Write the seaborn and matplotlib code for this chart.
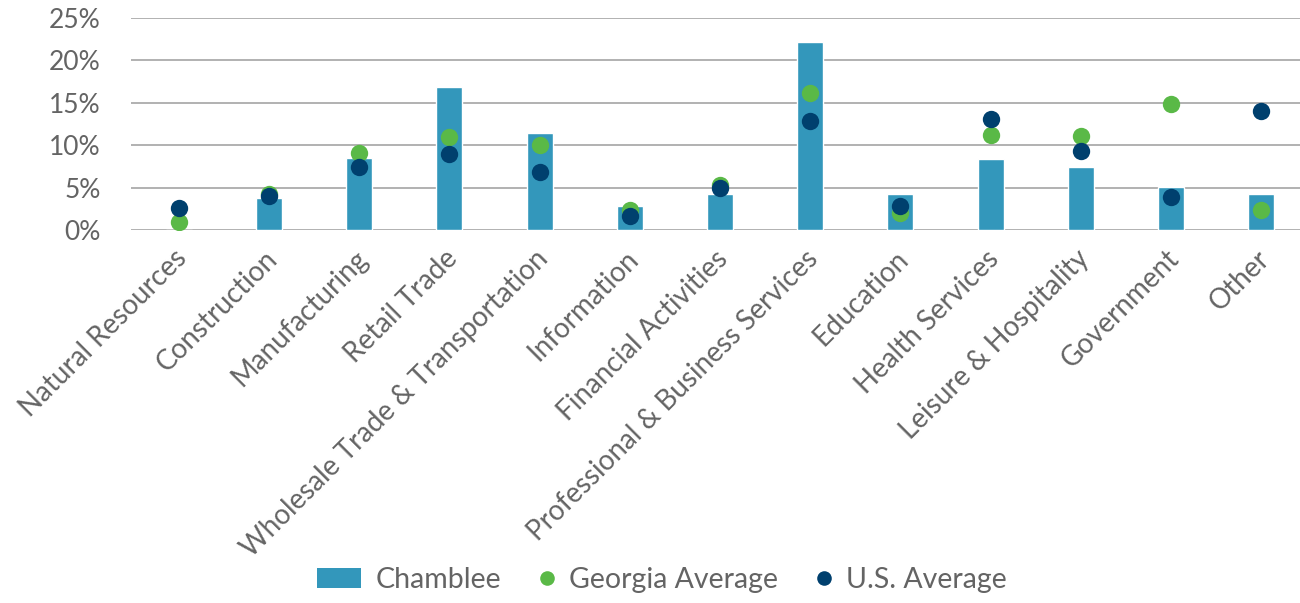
import matplotlib
matplotlib.use("Agg")
import matplotlib.pyplot as plt
import matplotlib.transforms as mtransforms
from matplotlib.patches import Patch
from matplotlib.lines import Line2D
from matplotlib.legend_handler import HandlerLine2D
import seaborn as sns
import pandas as pd

# values (percent of employment)
industries = ["Natural Resources", "Construction", "Manufacturing", "Retail Trade",
              "Wholesale Trade & Transportation", "Information", "Financial Activities",
              "Professional & Business Services", "Education", "Health Services",
              "Leisure & Hospitality", "Government", "Other"]
chamblee = [0.0, 3.8, 8.5, 16.9, 11.4, 2.8, 4.3, 22.2, 4.3, 8.4, 7.4, 5.1, 4.3]
georgia = [0.9, 4.3, 9.1, 11.0, 10.0, 2.4, 5.3, 16.1, 2.0, 11.2, 11.1, 14.9, 2.3]
us_avg = [2.6, 4.0, 7.4, 9.0, 6.8, 1.7, 4.9, 12.9, 2.8, 13.1, 9.3, 3.9, 14.0]
yticks = [0, 5, 10, 15, 20, 25]

bar_col = "#3397BB"
ga_col = "#5AB947"
us_col = "#00406E"
txt_col = "#646464"


class DotHandler(HandlerLine2D):
    # put the legend dot at the right end of the handle box, next to its text
    def get_xdata(self, legend, xdescent, ydescent, width, height, fontsize):
        x = -xdescent + width - 0.28 * fontsize
        return [x - 1, x + 1], [x]


sns.set_style("white")
plt.rcParams["font.family"] = ["Lato", "DejaVu Sans"]

df = pd.DataFrame({"industry": industries, "Chamblee": chamblee,
                   "Georgia": georgia, "US": us_avg})

fig = plt.figure(figsize=(13, 6.03), dpi=100)
ax = fig.add_axes([131 / 1300, 1 - 230 / 603, 1 - 131 / 1300, 212 / 603])

sns.barplot(data=df, x="industry", y="Chamblee", color=bar_col, width=0.29,
            saturation=1, ax=ax, zorder=2)
sns.stripplot(data=df, x="industry", y="Georgia", color=ga_col, jitter=False,
              size=12.5, linewidth=0, ax=ax, zorder=3)
sns.stripplot(data=df, x="industry", y="US", color=us_col, jitter=False,
              size=12.5, linewidth=0, ax=ax, zorder=4)

ax.set_ylim(0, 25)
ax.set_xlim(-0.53, 12.43)
ax.set_yticks(yticks)
ax.set_yticklabels([f"{v}%" for v in yticks], fontsize=19, color=txt_col)
ax.yaxis.grid(True, color="#9C9C9C", linewidth=1.1, zorder=0)
ax.set_axisbelow(True)
ax.set_xlabel("")
ax.set_ylabel("")
sns.despine(ax=ax, left=True, bottom=True)
ax.tick_params(axis="y", length=0, pad=22)
ax.tick_params(axis="x", length=0, pad=11)
shift = mtransforms.ScaledTranslation(-5 / 100, 0, fig.dpi_scale_trans)
for lbl in ax.get_xticklabels():
    lbl.set_rotation(45)
    lbl.set_ha("right")
    lbl.set_rotation_mode("anchor")
    lbl.set_fontsize(20)
    lbl.set_color(txt_col)
    lbl.set_transform(lbl.get_transform() + shift)

handles = [
    Patch(facecolor=bar_col, edgecolor="none", label="Chamblee"),
    Line2D([], [], marker="o", linestyle="none", markersize=10.5,
           markerfacecolor=ga_col, markeredgewidth=0, label="Georgia Average"),
    Line2D([], [], marker="o", linestyle="none", markersize=10.5,
           markerfacecolor=us_col, markeredgewidth=0, label="U.S. Average"),
]
leg = fig.legend(handles=handles, loc="center", bbox_to_anchor=(662 / 1300, 1 - 580 / 603),
                 ncol=3, frameon=False, fontsize=20.5, handlelength=1.55, handleheight=0.75,
                 columnspacing=0.35, handletextpad=0.5,
                 handler_map={Line2D: DotHandler()})
for t in leg.get_texts():
    t.set_color(txt_col)

fig.savefig("out.png", dpi=100)
